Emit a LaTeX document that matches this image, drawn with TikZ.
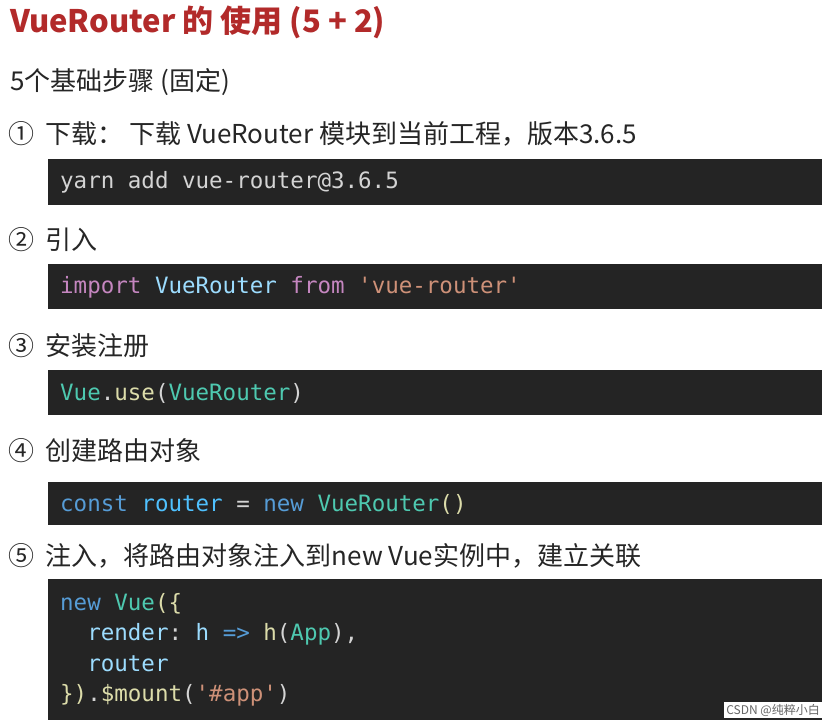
\documentclass[tikz,border=0pt]{standalone}
\usepackage{fontspec}
\setmainfont{Noto Sans CJK SC}
\setmonofont{DejaVu Sans Mono}
\definecolor{titlered}{HTML}{B22A2A}
\definecolor{codebg}{HTML}{242424}
\definecolor{cw}{HTML}{D4D4D4}
\definecolor{cpink}{HTML}{C586C0}
\definecolor{clb}{HTML}{9CDCFE}
\definecolor{cor}{HTML}{CE9178}
\definecolor{cteal}{HTML}{4EC9B0}
\definecolor{cblue}{HTML}{569CD6}
\definecolor{cyel}{HTML}{DCDCAA}
\definecolor{cvar}{HTML}{4FC1FF}
\tikzset{
  codebox/.style={fill=codebg, draw=none},
  head/.style={anchor=west, font=\fontsize{26}{30}\selectfont, text=black!85, inner sep=0},
  code/.style={anchor=west, font=\ttfamily\fontsize{22.5}{30.5}\selectfont, text=cw, inner sep=0, align=left},
}
\begin{document}
\begin{tikzpicture}[x=1pt,y=-1pt]
\useasboundingbox (0,0) rectangle (830,726);
\fill[white] (0,0) rectangle (830,726);
\node[anchor=west, inner sep=0, text=titlered, font=\bfseries\fontsize{31}{36}\selectfont] (title) at (10,22) {VueRouter 的 使用 (5 + 2)};
\node[head] (sub) at (10,82) {5个基础步骤 (固定)};
\node[head] (s1) at (8,134) {① \ 下载： 下载 VueRouter 模块到当前工程，版本3.6.5};
\fill[codebox] (48,159) rectangle (822,205);
\node[code] (c1) at (60,182) {yarn add vue-router@3.6.5};
\node[head] (s2) at (8,240) {② \ 引入};
\fill[codebox] (48,264) rectangle (822,309);
\node[code] (c2) at (60,287) {\textcolor{cpink}{import} \textcolor{clb}{VueRouter} \textcolor{cpink}{from} \textcolor{cor}{'vue-router'}};
\node[head] (s3) at (8,346) {③ \ 安装注册};
\fill[codebox] (48,370) rectangle (822,415);
\node[code] (c3) at (60,393) {\textcolor{cteal}{Vue}.\textcolor{cyel}{use}(\textcolor{cteal}{VueRouter})};
\node[head] (s4) at (8,451) {④ \ 创建路由对象};
\fill[codebox] (48,482) rectangle (822,525);
\node[code] (c4) at (60,504) {\textcolor{cblue}{const} \textcolor{cvar}{router} = \textcolor{cblue}{new} \textcolor{cteal}{VueRouter}\textcolor{cyel}{()}};
\node[head] (s5) at (8,556) {⑤ \ 注入，将路由对象注入到new Vue实例中，建立关联};
\fill[codebox] (48,579) rectangle (822,720);
\node[code, anchor=north west] (c5) at (60,593) {\textcolor{cblue}{new} \textcolor{cteal}{Vue}\textcolor{cyel}{(\{}\\
\ \ \textcolor{clb}{render}: \textcolor{clb}{h} \textcolor{cblue}{=>} \textcolor{cyel}{h}(\textcolor{cteal}{App}),\\
\ \ \textcolor{clb}{router}\\
\textcolor{cyel}{\})}.\textcolor{cyel}{\$mount}(\textcolor{cor}{'\#app'})};
\node[anchor=east, inner sep=2pt, fill=white, text=black!60, font=\fontsize{12}{14}\selectfont] (wm) at (822,710) {CSDN @纯粹小白};
\end{tikzpicture}
\end{document}
